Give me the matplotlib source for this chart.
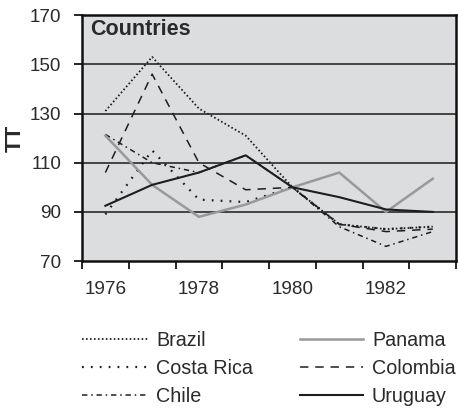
import numpy as np
import matplotlib
matplotlib.use("Agg")
import matplotlib.pyplot as plt
from matplotlib.lines import Line2D

plt.rcParams['font.family'] = ['Liberation Sans', 'DejaVu Sans']

years = [1976, 1977, 1978, 1979, 1980, 1981, 1982, 1983]
brazil = [131, 153, 132, 121, 100, 85, 83, 84]
costa_rica = [89, 115, 95, 94, 100, 85, 83, 84]
chile = [121.5, 110, 106, 113, 100, 84, 76, 82]
panama = [121, 101, 88, 93, 100, 106, 90, 103.5]
colombia = [106, 146, 110, 99, 100, 85, 82, 83]
uruguay = [92.5, 101, 106, 113, 100, 96, 91, 90]

yticks = [70, 90, 110, 130, 150, 170]
xlabels = ['1976', '1978', '1980', '1982']

fig = plt.figure(figsize=(4.58, 4.08), dpi=100)
ax = fig.add_axes([0.179, 0.360, 0.817, 0.603])
ax.set_facecolor('#dcdddf')

x = np.arange(len(years)) + 0.5

for yv in yticks[1:-1]:
    ax.axhline(yv, color='#1a1a1a', lw=1.1, zorder=1)

dark = '#1e1e1e'
styles = {
    'Brazil': dict(color=dark, lw=1.3, ls=(0, (0.9, 1.3))),
    'Costa Rica': dict(color=dark, lw=1.6, ls=(0, (0.8, 3.2))),
    'Chile': dict(color=dark, lw=1.1, ls=(0, (3.5, 2.5, 1, 2.5))),
    'Panama': dict(color='#999999', lw=1.8, ls='-'),
    'Colombia': dict(color=dark, lw=1.1, ls=(0, (5.5, 4.5))),
    'Uruguay': dict(color=dark, lw=1.5, ls='-'),
}
series = {'Brazil': brazil, 'Costa Rica': costa_rica, 'Chile': chile,
          'Panama': panama, 'Colombia': colombia, 'Uruguay': uruguay}

for name, vals in series.items():
    ax.plot(x, vals, zorder=3, **styles[name])

txt = '#2a2a2a'
ax.set_xlim(0, len(years))
ax.set_ylim(70, 170)
ax.set_yticks(yticks)
ax.set_xticks(np.arange(len(years) + 1))
ax.set_xticklabels([])
ax.set_xticks(x[::2], minor=True)
ax.set_xticklabels(xlabels, minor=True)
ax.tick_params(axis='x', which='minor', length=0, pad=14, labelsize=13.6, labelcolor=txt)
ax.tick_params(axis='x', which='major', length=6, width=1.2, direction='out')
ax.tick_params(axis='y', length=6, width=1.2, labelsize=13.6, labelcolor=txt, pad=9)
for s in ax.spines.values():
    s.set_linewidth(1.8)
    s.set_color('#111111')

# y label placed by hand so it stays inside the figure
fig.text(15 / 458, 1 - 138 / 408, 'TT', rotation=90, fontsize=16,
         fontweight='bold', ha='center', va='center', color=txt)
ax.text(0.022, 0.985, 'Countries', transform=ax.transAxes, fontsize=15.5,
        fontweight='bold', va='top', ha='left', color=txt)

names = list(series.keys())
h1 = [Line2D([], [], **styles[n]) for n in names[:3]]
h2 = [Line2D([], [], **styles[n]) for n in names[3:]]
leg_kw = dict(frameon=False, fontsize=14.2, labelspacing=0.47, borderpad=0,
              borderaxespad=0, loc='upper left', labelcolor=txt)
fig.legend(h1, names[:3], handlelength=3.35, handletextpad=0.4,
           bbox_to_anchor=(82 / 458, 1 - 330.5 / 408), **leg_kw)
fig.legend(h2, names[3:], handlelength=3.2, handletextpad=0.45,
           bbox_to_anchor=(300 / 458, 1 - 330.5 / 408), **leg_kw)

fig.savefig('out.png', dpi=100)
